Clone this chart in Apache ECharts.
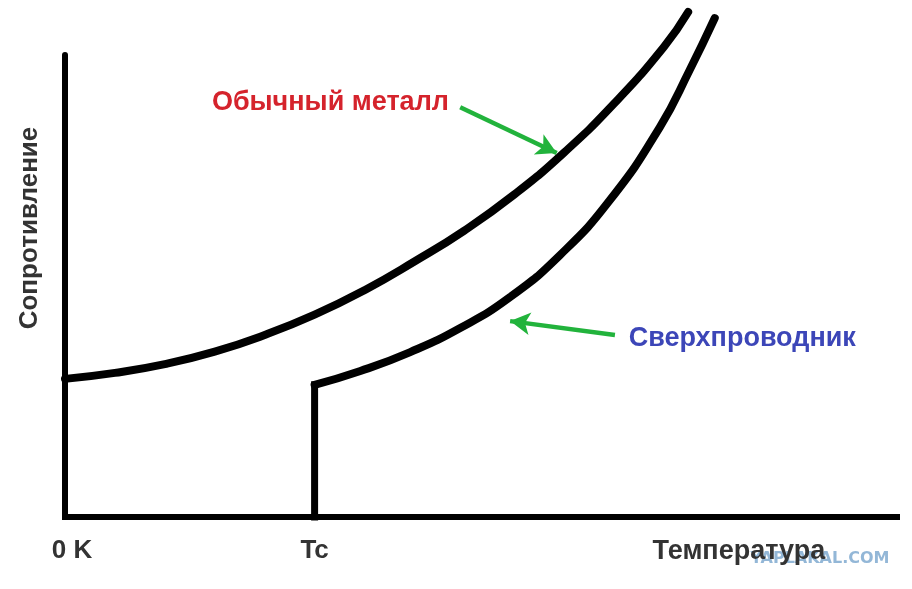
<!DOCTYPE html>
<html><head><meta charset="utf-8">
<script src="https://cdn.jsdelivr.net/npm/echarts@6/dist/echarts.min.js"></script>
<style>html,body{margin:0;padding:0;background:#fff}#c{width:912px;height:589px}</style>
</head><body><div id="c"></div>
<script>
// Temperature (arbitrary units) and resistance (arbitrary units)
const metalT = [0, 6, 12, 18, 24, 30, 36, 42, 48, 54, 60, 66, 72, 74.9];
const metalR = [29.9, 31.2, 33.1, 35.8, 39.4, 43.8, 49.1, 55.3, 62, 69.8, 78.9, 89.5, 101.8, 109.3];
const tc = 30;
const scT = [30, 35.5, 41.5, 47.5, 53.5, 59.5, 65.5, 71.5, 75.1, 78.1];
const scR = [28.6, 31.6, 35.7, 40.9, 47.6, 56.7, 68.6, 84.4, 96.8, 108];
const xTickValues = [0, 30, 81];
const xTickLabels = ['0 K', 'Tc', 'Температура'];
const yAxisTitle = 'Сопротивление';
const labelNames = ['Обычный металл', 'Сверхпроводник'];
const labelColors = ['#d5232c', '#3c46b8'];
const labelPos = [[31.9, 89.8], [81.4, 38.7]];
const arrowFrom = [[47.5, 88.7], [66.1, 39.4]];
const arrowTo = [[59.1, 78.8], [53.5, 42.4]];
const watermark = 'YAPLAKAL.COM';

const chart = echarts.init(document.getElementById('c'));
const zip = (a, b) => a.map((v, i) => [v, b[i]]);
const curveStyle = { color: '#000', width: 8, cap: 'round', join: 'round' };
const font = '"Liberation Sans", Arial, sans-serif';

chart.setOption({
  animation: false,
  backgroundColor: '#fff',
  grid: { left: 65, right: 15, top: 55, bottom: 72 },
  xAxis: {
    type: 'value', min: 0, max: 100,
    axisLine: { lineStyle: { color: '#000', width: 6, cap: 'square' } },
    axisTick: { show: false },
    splitLine: { show: false },
    axisLabel: {
      customValues: xTickValues,
      margin: 21,
      color: '#333',
      fontFamily: font,
      fontWeight: 'bold',
      fontSize: 26,
      formatter: v => {
        const i = xTickValues.indexOf(v);
        const t = i >= 0 ? xTickLabels[i] : '';
        return i === 0 ? '{a|' + t + '}' : (i === 2 ? '{b|' + t + '}' : t);
      },
      rich: {
        a: { padding: [0, 0, 0, 14], color: '#333', fontFamily: font, fontWeight: 'bold', fontSize: 26 },
        b: { color: '#333', fontFamily: font, fontWeight: 'bold', fontSize: 27 }
      }
    }
  },
  yAxis: {
    type: 'value', min: 0, max: 100,
    axisLine: { show: true, lineStyle: { color: '#000', width: 6 } },
    axisTick: { show: false },
    splitLine: { show: false },
    axisLabel: { show: false }
  },
  series: [
    {
      name: 'metal', type: 'line', data: zip(metalT, metalR), smooth: 0.5,
      showSymbol: false, clip: false, lineStyle: curveStyle, silent: true
    },
    {
      name: 'scDrop', type: 'line', data: [[tc, 0], [tc, scR[0]]],
      showSymbol: false, clip: false, lineStyle: { color: '#000', width: 7, cap: 'square' }, silent: true
    },
    {
      name: 'sc', type: 'line', data: zip(scT, scR), smooth: 0.5,
      showSymbol: false, clip: false, lineStyle: curveStyle, silent: true,
      markLine: {
        silent: true,
        symbol: ['none', 'arrow'],
        symbolSize: [17, 20],
        label: { show: false },
        lineStyle: { color: '#22b33c', width: 4.5, type: 'solid' },
        data: arrowFrom.map((f, i) => [{ coord: f }, { coord: arrowTo[i] }])
      }
    }
  ]
});

const texts = labelNames.map((t, i) => {
  const p = chart.convertToPixel({ gridIndex: 0 }, labelPos[i]);
  return {
    type: 'text', x: p[0], y: p[1], silent: true,
    style: { text: t, fill: labelColors[i], font: 'bold 27px ' + font, align: 'center', verticalAlign: 'middle' }
  };
});
chart.setOption({
  graphic: [
    {
      type: 'text', x: 30, y: 228, rotation: Math.PI / 2, silent: true,
      style: { text: yAxisTitle, fill: '#333', font: 'bold 26px ' + font, align: 'center', verticalAlign: 'middle' }
    },
    {
      type: 'text', x: 820, y: 559, silent: true,
      style: { text: watermark, fill: 'rgba(120,165,205,0.8)', font: 'bold 16px "DejaVu Sans", sans-serif', align: 'center', verticalAlign: 'middle' }
    }
  ].concat(texts)
});
</script></body></html>
